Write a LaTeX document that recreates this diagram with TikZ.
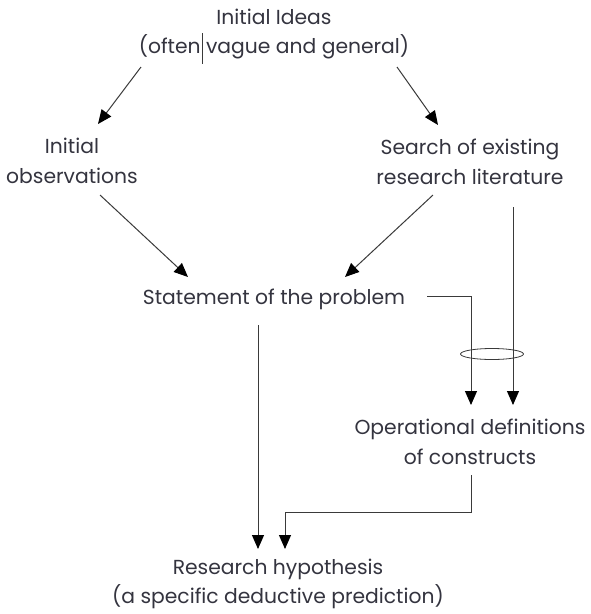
\documentclass[tikz,border=0pt]{standalone}
\usepackage{fontspec}
\setmainfont{Poppins}
\usetikzlibrary{arrows.meta}
\definecolor{txt}{HTML}{34343F}
\definecolor{ln}{HTML}{3A3A3A}
\tikzset{
  lbl/.style={align=center, inner sep=0pt, text=txt, font=\fontsize{20.3}{29.5}\selectfont},
  conn/.style={draw=ln, line width=1pt, -{Triangle[length=14pt,width=12pt,color=black]}},
  plain/.style={draw=ln, line width=0.9pt},
}
\begin{document}
\begin{tikzpicture}[x=1pt,y=-1pt]
\useasboundingbox[fill=white] (0,0) rectangle (590,614);
\node[lbl] (ideas) at (274,34) {Initial Ideas\\(often vague and general)};
\node[lbl] (obs) at (72,161) {Initial\\observations};
\node[lbl] (search) at (470,162) {Search of existing\\research literature};
\node[lbl] (stmt) at (274,299) {Statement of the problem};
\node[lbl] (oper) at (470,442) {Operational definitions\\of constructs};
\node[lbl] (hyp) at (278,584) {Research hypothesis\\(a specific deductive prediction)};
% cursor mark
\coordinate (c1) at (202,33);
\coordinate (c2) at (202,64);
\draw[ln, line width=0.8pt] (c1) -- (c2);
% connector endpoints
\coordinate (a1s) at (141,67);  \coordinate (a1e) at (98,124);
\coordinate (a2s) at (397,67);  \coordinate (a2e) at (438,125);
\coordinate (a3s) at (100,195); \coordinate (a3e) at (188,277);
\coordinate (a4s) at (433,195); \coordinate (a4e) at (345,277);
\coordinate (a5s) at (513,207); \coordinate (a5e) at (513,405);
\coordinate (a6s) at (427,296); \coordinate (a6m) at (471,296); \coordinate (a6e) at (471,405);
\coordinate (a7s) at (471,475); \coordinate (a7m1) at (471,512); \coordinate (a7m2) at (285,512); \coordinate (a7e) at (285,549);
\coordinate (a8s) at (258,325); \coordinate (a8e) at (258,549);
\coordinate (ell) at (492,354);
\draw[conn] (a1s) -- (a1e);
\draw[conn] (a2s) -- (a2e);
\draw[conn] (a3s) -- (a3e);
\draw[conn] (a4s) -- (a4e);
\draw[conn] (a5s) -- (a5e);
\draw[conn] (a6s) -- (a6m) -- (a6e);
\draw[conn] (a7s) -- (a7m1) -- (a7m2) -- (a7e);
\draw[conn] (a8s) -- (a8e);
\draw[plain, line width=0.8pt] (ell) ellipse [x radius=31.5, y radius=5.5];
\end{tikzpicture}
\end{document}
